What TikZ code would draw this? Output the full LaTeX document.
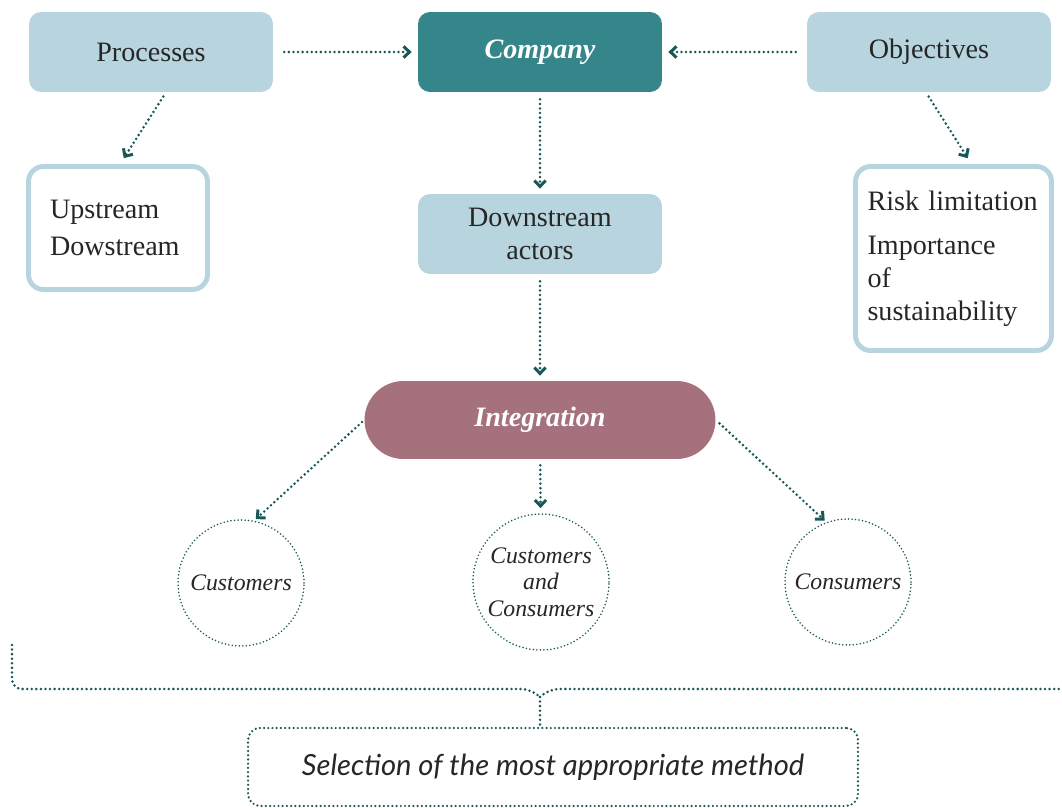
\documentclass[tikz,border=0pt]{standalone}
\usepackage{fontspec}
\setmainfont{Liberation Serif}
\newfontfamily\methodfont{Lato}
\usetikzlibrary{arrows.meta}
\definecolor{FlowBlue}{HTML}{B8D5DF}
\definecolor{FlowTeal}{HTML}{35868A}
\definecolor{FlowMauve}{HTML}{A5717C}
\definecolor{FlowDot}{HTML}{1A5757}

\tikzset{
  blockbox/.style={fill=FlowBlue, rounded corners=0.24cm, minimum width=4.88cm,
    minimum height=1.6cm, align=center, inner sep=0pt, text=black!85,
    font=\fontsize{16}{18.8}\selectfont},
  listbox/.style={draw=FlowBlue, line width=2.8pt, fill=white, rounded corners=0.3cm,
    align=left, inner ysep=0pt, text=black!85},
  groupcircle/.style={circle, draw=FlowDot, line width=1pt, dash pattern=on 0pt off 2pt,
    line cap=round, align=center, inner sep=0pt, text=black!85,
    font=\fontsize{13.5}{15}\selectfont\itshape},
  dotline/.style={draw=FlowDot, line width=1.6pt, line cap=round, dash pattern=on 0pt off 2.6pt},
  dotlink/.style={dotline, -{Straight Barb[length=3.4pt,width=6.4pt,line width=1.7pt]}},
  methodbox/.style={draw=FlowDot, line width=1.4pt, line cap=round, dash pattern=on 0pt off 2.4pt,
    rounded corners=0.24cm, minimum width=12.2cm, minimum height=1.56cm, inner sep=0pt,
    font=\methodfont\itshape\fontsize{16.6}{19}\selectfont, text=black!85},
}

\begin{document}
\begin{tikzpicture}[x=0.02cm,y=-0.02cm]
\path[use as bounding box] (0,0) rectangle (1062,808);
% top row
\node[blockbox] (processes) at (151,52) {Processes};
\node[blockbox, fill=FlowTeal, text=white, font=\fontsize{16}{18.8}\selectfont\bfseries\itshape] (company) at (540,52) {Company};
\node[blockbox] (objectives) at (929,52) {Objectives};
% second row
\node[listbox, text width=2.72cm, inner xsep=0.43cm, minimum height=2.46cm,
  font=\fontsize{16}{21}\selectfont] (streams) at (118,228) {Upstream\\Dowstream};
\node[blockbox] (downstream) at (540,234) {Downstream\\actors};
\node[listbox, text width=3.44cm, inner xsep=0.24cm, minimum height=3.68cm,
  font=\fontsize{16}{18.8}\selectfont] (risk) at (953.5,258.5) {Risk limitation\\[0.22cm]Importance\\of\\sustainability};
% integration and groups
\node[fill=FlowMauve, rounded corners=0.78cm, minimum width=7.02cm, minimum height=1.56cm,
  text=white, font=\fontsize{16}{18.8}\selectfont\bfseries\itshape] (integration) at (540,420) {Integration};
\node[groupcircle, minimum size=2.52cm] (customers) at (241,583) {Customers};
\node[groupcircle, minimum size=2.72cm] (both) at (541,582) {Customers\\and\\Consumers};
\node[groupcircle, minimum size=2.52cm] (consumers) at (848,582) {Consumers};
% method
\node[methodbox] (method) at (553,767) {Selection of the most appropriate method};
% links
\draw[dotlink, shorten <=0.22cm, shorten >=0.12cm] (processes) -- (company);
\draw[dotlink, shorten <=0.22cm, shorten >=0.12cm] (objectives) -- (company);
\draw[dotlink, shorten <=0.1cm, shorten >=0.14cm] ([xshift=0.3cm]processes.south) -- ([xshift=0.04cm]streams.north);
\draw[dotlink, shorten <=0.1cm, shorten >=0.14cm] ([xshift=-0.06cm]objectives.south) -- ([xshift=0.36cm]risk.north);
\draw[dotlink, shorten <=0.14cm, shorten >=0.1cm] (company) -- (downstream);
\draw[dotlink, shorten <=0.14cm, shorten >=0.1cm] (downstream) -- (integration);
\draw[dotlink, shorten <=0.06cm, shorten >=0.04cm] (integration.west) -- (customers.78);
\draw[dotlink, shorten <=0.12cm, shorten >=0.1cm] (integration) -- (both);
\draw[dotlink, shorten <=0.1cm, shorten >=0.04cm] (integration.east) -- (consumers.110);
% brace
\coordinate (notch) at (540,697);
\draw[dotline, rounded corners=0.2cm] (12,645) -- (12,689) -- (531,689) -- (notch);
\draw[dotline, rounded corners=0.2cm] (notch) -- (549,689) -- (1062,689);
\draw[dotline] (notch) -- (notch |- method.north);
\end{tikzpicture}
\end{document}
